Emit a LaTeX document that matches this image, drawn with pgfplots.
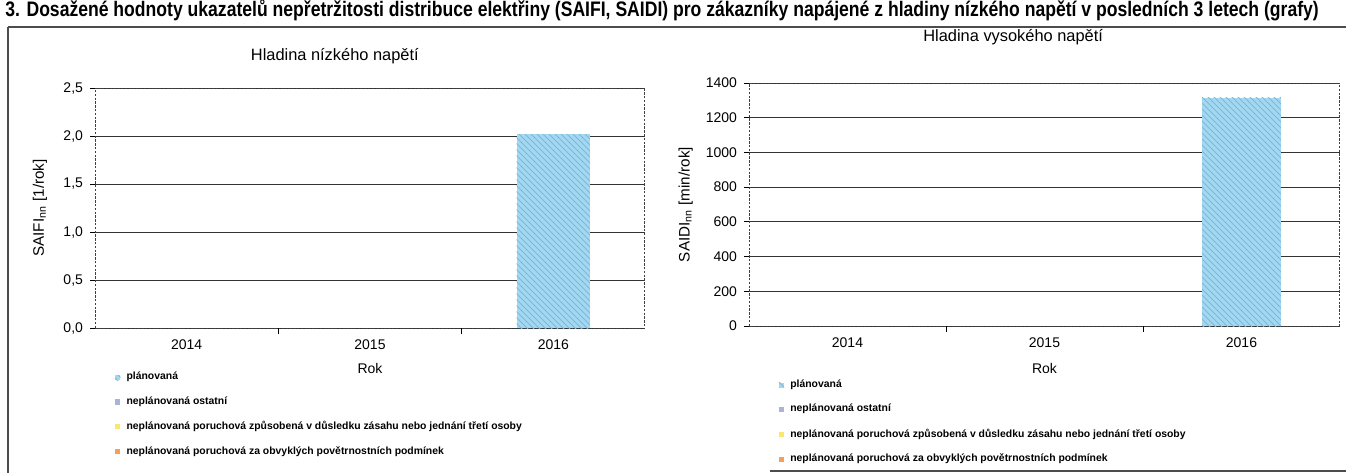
\documentclass[border=0pt]{standalone}
\usepackage{fontspec}
\setmainfont{Liberation Sans}
\usepackage{pgfplots}
\pgfplotsset{compat=1.18}
\usetikzlibrary{patterns}

\definecolor{cplan}{RGB}{165,216,240}
\definecolor{cplanline}{RGB}{115,188,228}
\definecolor{costat}{RGB}{170,180,215}
\definecolor{ctreti}{RGB}{250,232,110}
\definecolor{cpocasi}{RGB}{245,160,90}

\pgfplotsset{
  common/.style={
    scale only axis,
    ybar stacked,
    bar width=0.4,
    xmin=0.5, xmax=3.5,
    ymin=0,
    xtick={1,2,3},
    xticklabels={2014,2015,2016},
    major x tick style={draw=none},
    extra x ticks={1.5,2.5},
    extra x tick labels={},
    extra x tick style={grid=none, major tick length=3pt, major x tick style={draw=black, line width=0.5pt}},
    ymajorgrids,
    grid style={black!80, line width=0.5pt},
    axis line style={draw=black!75, dash pattern=on 1.2pt off 0.7pt, line width=0.5pt},
    tick align=outside,
    major tick length=2.5pt,
    ytick style={black, line width=0.5pt},
    xtick pos=bottom, ytick pos=left,
    /pgf/number format/assume math mode=true,
    /pgf/number format/1000 sep={},
    tick label style={font=\fontsize{7}{8}\selectfont},
    xlabel style={font=\fontsize{7}{8}\selectfont},
    ylabel style={font=\fontsize{7.6}{9}\selectfont},
    title style={font=\fontsize{8.2}{9}\selectfont},
    legend cell align=left,
    legend style={draw=none, fill=none, font=\bfseries\fontsize{5.2}{6}\selectfont,
      row sep=5.7pt, inner sep=0pt,
      nodes={inner sep=0.6pt},
      /tikz/every odd column/.append style={column sep=2.5pt}},
    legend image code/.code={\fill[##1] (0pt,-1.3pt) rectangle (2.6pt,1.3pt);},
  },
  planstyle/.style={fill=cplan, draw=none, postaction={pattern=north west lines, pattern color=cplanline}},
}

\begin{document}
\begin{tikzpicture}
% title (cropped at the top edge)
\node[anchor=base west, inner sep=0pt] at (2.5pt,-8pt)
  {\scalebox{0.837}[1]{\bfseries\fontsize{10.5}{12}\selectfont 3. Dosažené hodnoty ukazatelů nepřetržitosti distribuce elektřiny (SAIFI, SAIDI) pro zákazníky napájené z hladiny nízkého napětí v posledních 3 letech (grafy)}};
% frame lines
\draw[black!70, line width=0.8pt] (4pt,-13.5pt) -- (673pt,-13.5pt);
\draw[black!70, line width=0.6pt] (4pt,-13.5pt) -- (4pt,-236.5pt);
\draw[black!70, line width=0.8pt] (385pt,-235.5pt) -- (673pt,-235.5pt);

% left chart
\begin{axis}[common,
  at={(47.5pt,-164pt)}, anchor=south west,
  width=275pt, height=120pt,
  ymax=2.5, ytick={0,0.5,...,2.5},
  /pgf/number format/.cd, use comma, fixed, fixed zerofill, precision=1, /pgfplots/.cd,
  ylabel={SAIFI\textsubscript{nn} [1/rok]},
  ylabel style={at={(axis description cs:-0.1,0.5)}, anchor=center},
  xlabel={Rok},
  xlabel style={at={(axis description cs:0.5,-0.167)}, anchor=center},
  title={Hladina nízkého napětí},
  title style={at={(axis description cs:0.436,1.083)}, anchor=center},
  legend style={at={(axis description cs:0.036,-0.178)}, anchor=north west},
]
\addplot[planstyle] coordinates {(1,0) (2,0) (3,2.02)};
\addplot[fill=costat, draw=none] coordinates {(1,0) (2,0) (3,0)};
\addplot[fill=ctreti, draw=none] coordinates {(1,0) (2,0) (3,0)};
\addplot[fill=cpocasi, draw=none] coordinates {(1,0) (2,0) (3,0)};
\legend{plánovaná, neplánovaná ostatní, neplánovaná poruchová způsobená v důsledku zásahu nebo jednání třetí osoby, neplánovaná poruchová za obvyklých povětrnostních podmínek}
\end{axis}

% right chart
\begin{axis}[common,
  at={(374.5pt,-163pt)}, anchor=south west,
  width=295.5pt, height=121.5pt,
  ymax=1400, ytick={0,200,...,1400},
  ylabel={SAIDI\textsubscript{nn} [min/rok]},
  ylabel style={at={(axis description cs:-0.107,0.5)}, anchor=center},
  xlabel={Rok},
  xlabel style={at={(axis description cs:0.5,-0.173)}, anchor=center},
  title={Hladina vysokého napětí},
  title style={at={(axis description cs:0.447,1.138)}, anchor=center},
  legend style={at={(axis description cs:0.05,-0.215)}, anchor=north west},
]
\addplot[planstyle] coordinates {(1,0) (2,0) (3,1315)};
\addplot[fill=costat, draw=none] coordinates {(1,0) (2,0) (3,0)};
\addplot[fill=ctreti, draw=none] coordinates {(1,0) (2,0) (3,0)};
\addplot[fill=cpocasi, draw=none] coordinates {(1,0) (2,0) (3,0)};
\legend{plánovaná, neplánovaná ostatní, neplánovaná poruchová způsobená v důsledku zásahu nebo jednání třetí osoby, neplánovaná poruchová za obvyklých povětrnostních podmínek}
\end{axis}

\pgfresetboundingbox
\path[use as bounding box] (0pt,0pt) rectangle (673pt,-236.5pt);
\end{tikzpicture}
\end{document}
